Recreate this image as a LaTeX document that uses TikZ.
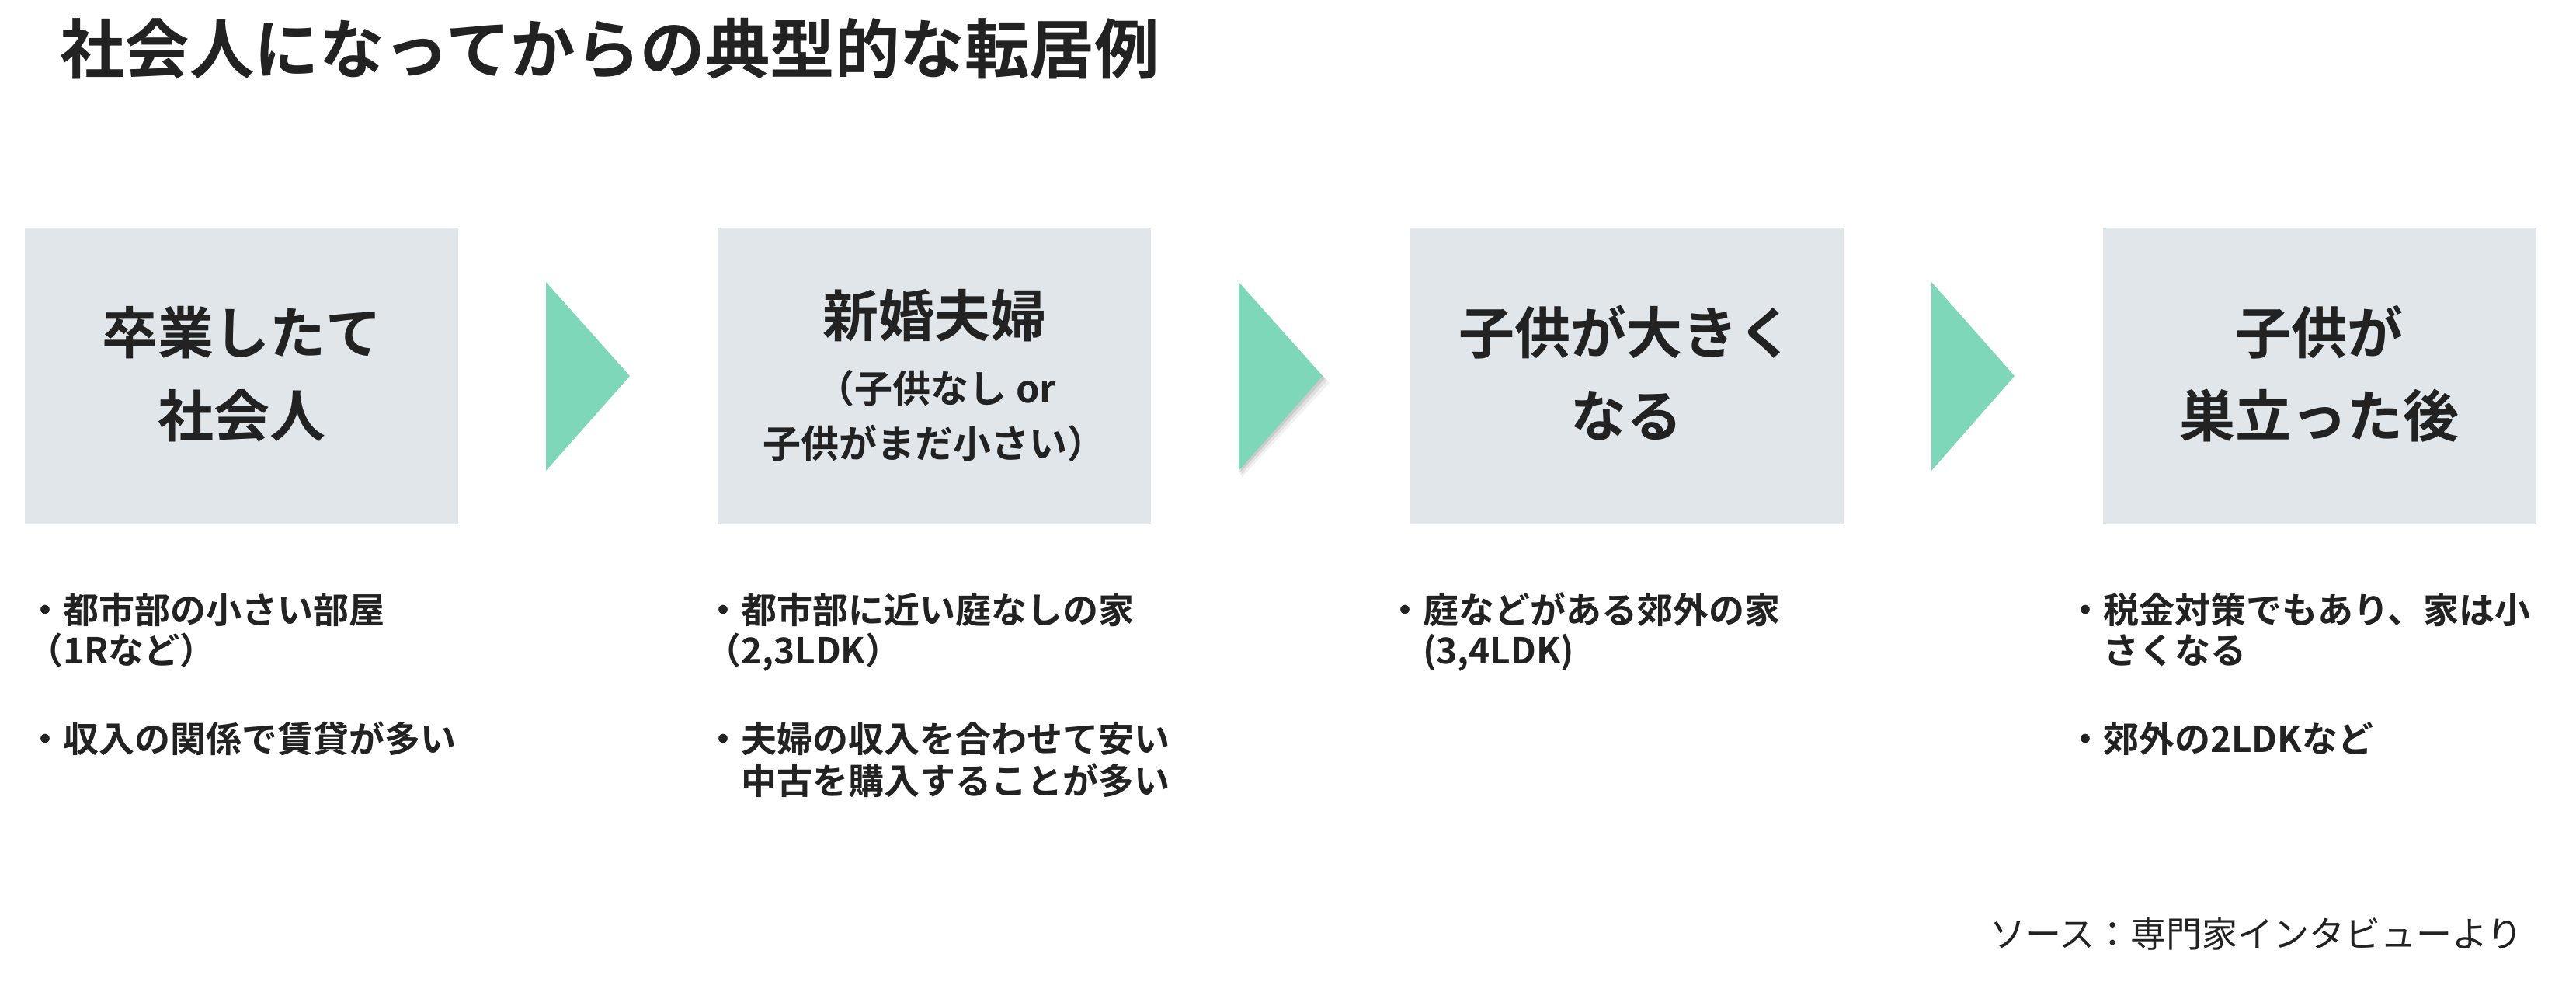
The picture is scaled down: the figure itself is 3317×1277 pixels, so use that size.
\documentclass[tikz,border=0pt]{standalone}
\usepackage{fontspec}
\setmainfont{Noto Sans CJK JP}[BoldFont={Noto Sans CJK JP Bold}]
\definecolor{boxgray}{HTML}{E1E6EA}
\definecolor{chevgreen}{HTML}{7FD7BA}
\definecolor{ink}{HTML}{222222}
\tikzset{
  stagebox/.style={fill=boxgray, draw=none, minimum width=558pt, minimum height=382pt, inner sep=0pt},
  chev/.style={fill=chevgreen, draw=none},
  boxtxt/.style={font=\fontsize{72}{86}\selectfont\bfseries, text=ink, inner sep=0pt, anchor=base},
  subtxt/.style={font=\fontsize{49}{60}\selectfont\bfseries, text=ink, inner sep=0pt, anchor=base},
  bul/.style={font=\fontsize{46}{56}\selectfont\bfseries, text=ink, inner sep=0pt, anchor=base west},
  titletxt/.style={font=\fontsize{83.5}{100}\selectfont\bfseries, text=ink, inner sep=0pt, anchor=base west},
  srctxt/.style={font=\fontsize{46}{55}\selectfont, text=ink, inner sep=0pt, anchor=base east}
}
\begin{document}
\begin{tikzpicture}[x=1pt,y=-1pt]
\path[fill=white,use as bounding box] (0,0) rectangle (3317,1277);

% title
\node[titletxt] (title) at (77,94) {社会人になってからの典型的な転居例};

% stage boxes
\node[stagebox] (b1) at (311,484) {};
\node[stagebox] (b2) at (1203,484) {};
\node[stagebox] (b3) at (2094.5,484) {};
\node[stagebox] (b4) at (2986.5,484) {};

% box texts
\node[boxtxt] (t1a) at (311,455) {卒業したて};
\node[boxtxt] (t1b) at (311,562) {社会人};
\node[boxtxt] (t2a) at (1203,433) {新婚夫婦};
\node[subtxt] (t2b) at (1206,518) {（子供なし or};
\node[subtxt] (t2c) at (1203,589) {子供がまだ小さい）};
\node[boxtxt] (t3a) at (2094.5,455) {子供が大きく};
\node[boxtxt] (t3b) at (2094.5,562) {なる};
\node[boxtxt] (t4a) at (2986.5,455) {子供が};
\node[boxtxt] (t4b) at (2986.5,562) {巣立った後};

% chevrons
\fill[chev] (703,363) -- (703,606) -- (811,484) -- cycle;
\foreach \d/\o in {9/0.05,6/0.07,3/0.09}{
  \fill[black,opacity=\o] (1595+\d*0.4,363+\d) -- (1595+\d*0.4,606+\d) -- (1703+\d,484+\d) -- cycle;
}
\fill[chev] (1595,363) -- (1595,606) -- (1703,484) -- cycle;
\fill[chev] (2487,363) -- (2487,606) -- (2594,484) -- cycle;

% bullet texts
\node[bul] (c1a) at (35,802) {・都市部の小さい部屋};
\node[bul] (c1b) at (35,854) {（1Rなど）};
\node[bul] (c1c) at (35,968) {・収入の関係で賃貸が多い};

\node[bul] (c2a) at (908,802) {・都市部に近い庭なしの家};
\node[bul] (c2b) at (908,854) {（2,3LDK）};
\node[bul] (c2c) at (908,968) {・夫婦の収入を合わせて安い};
\node[bul] (c2d) at (954,1022) {中古を購入することが多い};

\node[bul] (c3a) at (1786,802) {・庭などがある郊外の家};
\node[bul] (c3b) at (1832,854) {(3,4LDK)};

\node[bul] (c4a) at (2662,802) {・税金対策でもあり、家は小};
\node[bul] (c4b) at (2708,854) {さくなる};
\node[bul] (c4c) at (2662,968) {・郊外の2LDKなど};

% source
\node[srctxt] (src) at (3249,1219) {ソース：専門家インタビューより};
\end{tikzpicture}
\end{document}
